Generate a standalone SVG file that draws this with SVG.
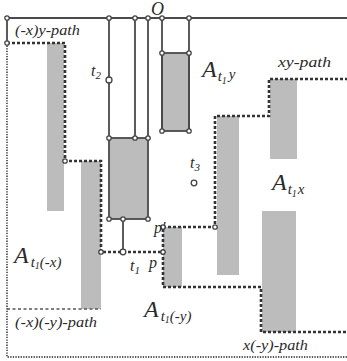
<svg xmlns="http://www.w3.org/2000/svg" width="347" height="361" viewBox="0 0 347 361">
<style>
.ln{stroke:#4a4a4a;stroke-width:1.8;fill:none}
.bar{fill:#bcbcbc}
.path{stroke:#333;stroke-width:2.6;fill:none;stroke-dasharray:3 2}
.thin{stroke:#555;stroke-width:1.6;fill:none;stroke-dasharray:3 2.5}
.dot{stroke:#555;stroke-width:1.8;fill:none;stroke-dasharray:1.3 1.3}
.v{fill:#fff;stroke:#444;stroke-width:1.3}
text{font-family:"Liberation Serif","DejaVu Serif",serif;font-style:italic;fill:#2a2a2a}
.lbl{font-size:14px}
.big{font-size:24px}
.sub{font-size:16px}
.ss{font-size:11px}
.as{font-size:15px}
.as1{font-size:10px}
</style>
<rect width="347" height="361" fill="#fff"/>
<g id="bars">
<rect class="bar" x="47" y="43" width="17" height="168"/>
<rect class="bar" x="81" y="161" width="20" height="148"/>
<rect class="bar" x="109" y="138" width="39" height="81"/>
<rect class="bar" x="162" y="53" width="27" height="78"/>
<rect class="bar" x="163" y="227" width="19" height="60"/>
<rect class="bar" x="217" y="116" width="22" height="159"/>
<rect class="bar" x="270" y="79" width="27" height="80"/>
<rect class="bar" x="262" y="211" width="34" height="121"/>
</g>
<g id="frame">
<line class="ln" x1="7" y1="18" x2="347" y2="18"/>
<line class="ln" x1="7" y1="18" x2="7" y2="43"/>
<line class="ln" x1="109" y1="18" x2="109" y2="138"/>
<line class="ln" x1="135" y1="18" x2="135" y2="138"/>
<line class="ln" x1="148" y1="18" x2="148" y2="138"/>
<line class="ln" x1="162" y1="18" x2="162" y2="131"/>
<line class="ln" x1="189" y1="18" x2="189" y2="131"/>
<rect class="ln" x="162" y="53" width="27" height="78"/>
<rect class="ln" x="109" y="138" width="39" height="81"/>
<line class="ln" x1="123" y1="219" x2="123" y2="252"/>
</g>
<g id="paths">
<polyline class="path" points="7,43 65,43 65,161 101,161 101,252 163,252 163,287 261,287 261,332 347,332"/>
<polyline class="path" points="163,252 163,227 215,227 215,116 269,116 269,79 347,79"/>
<polyline class="thin" points="7,309 101,309"/>
<polyline class="dot" points="7,43 7,357 347,357"/>
</g>
<g id="vertices">
<circle class="v" cx="7" cy="18" r="2.2"/>
<circle class="v" cx="109" cy="18" r="2.2"/>
<circle class="v" cx="135" cy="18" r="2.2"/>
<circle class="v" cx="148" cy="18" r="2.2"/>
<circle class="v" cx="162" cy="18" r="2.2"/>
<circle class="v" cx="189" cy="18" r="2.2"/>
<circle class="v" cx="7" cy="43" r="2.2"/>
<circle class="v" cx="162" cy="53" r="2.2"/>
<circle class="v" cx="189" cy="53" r="2.2"/>
<circle class="v" cx="162" cy="131" r="2.2"/>
<circle class="v" cx="189" cy="131" r="2.2"/>
<circle class="v" cx="109" cy="138" r="2.2"/>
<circle class="v" cx="135" cy="138" r="2.2"/>
<circle class="v" cx="148" cy="138" r="2.2"/>
<circle class="v" cx="109" cy="219" r="2.2"/>
<circle class="v" cx="123" cy="219" r="2.2"/>
<circle class="v" cx="148" cy="219" r="2.2"/>
<circle class="v" cx="65" cy="161" r="2.2"/>
<circle class="v" cx="101" cy="252" r="2.2"/>
<circle class="v" cx="123" cy="252" r="2.8"/>
<circle class="v" cx="163" cy="252" r="2.2"/>
<circle class="v" cx="163" cy="227" r="2.2"/>
<circle class="v" cx="215" cy="227" r="2.2"/>
<circle class="v" cx="109" cy="80" r="3"/>
<circle class="v" cx="194" cy="183" r="2.8"/>
</g>
<g id="labels">
<text x="151" y="15" style="font-size:18px">O</text>
<text class="lbl" x="15" y="35" textLength="65" lengthAdjust="spacingAndGlyphs">(-x)y-path</text>
<text class="lbl" x="278" y="67" textLength="53" lengthAdjust="spacingAndGlyphs">xy-path</text>
<text class="lbl" x="15" y="327" textLength="82" lengthAdjust="spacingAndGlyphs">(-x)(-y)-path</text>
<text class="lbl" x="243" y="350" textLength="65" lengthAdjust="spacingAndGlyphs">x(-y)-path</text>
<text class="sub" x="91" y="76">t<tspan class="ss" dy="3">2</tspan></text>
<text class="sub" x="190" y="168">t<tspan class="ss" dy="3">3</tspan></text>
<text class="sub" x="130" y="271">t<tspan class="ss" dy="3">1</tspan></text>
<text class="sub" x="149" y="268">p</text>
<text class="sub" x="154" y="233">p′</text>
<text class="big" x="202" y="77">A<tspan class="as" dx="1" dy="4">t</tspan><tspan class="as1" dy="3">1</tspan><tspan class="as" dx="2" dy="-5">y</tspan></text>
<text class="big" x="272" y="190">A<tspan class="as" dx="1" dy="4">t</tspan><tspan class="as1" dy="3">1</tspan><tspan class="as" dx="1" dy="-3">x</tspan></text>
<text class="big" x="14" y="263">A<tspan class="as" dx="2" dy="4">t</tspan><tspan class="as1" dy="2">1</tspan><tspan class="as" dy="-2">(-x)</tspan></text>
<text class="big" x="144" y="317">A<tspan class="as" dx="2" dy="4">t</tspan><tspan class="as1" dy="2">1</tspan><tspan class="as" dy="-2">(-y)</tspan></text>
</g>
</svg>
